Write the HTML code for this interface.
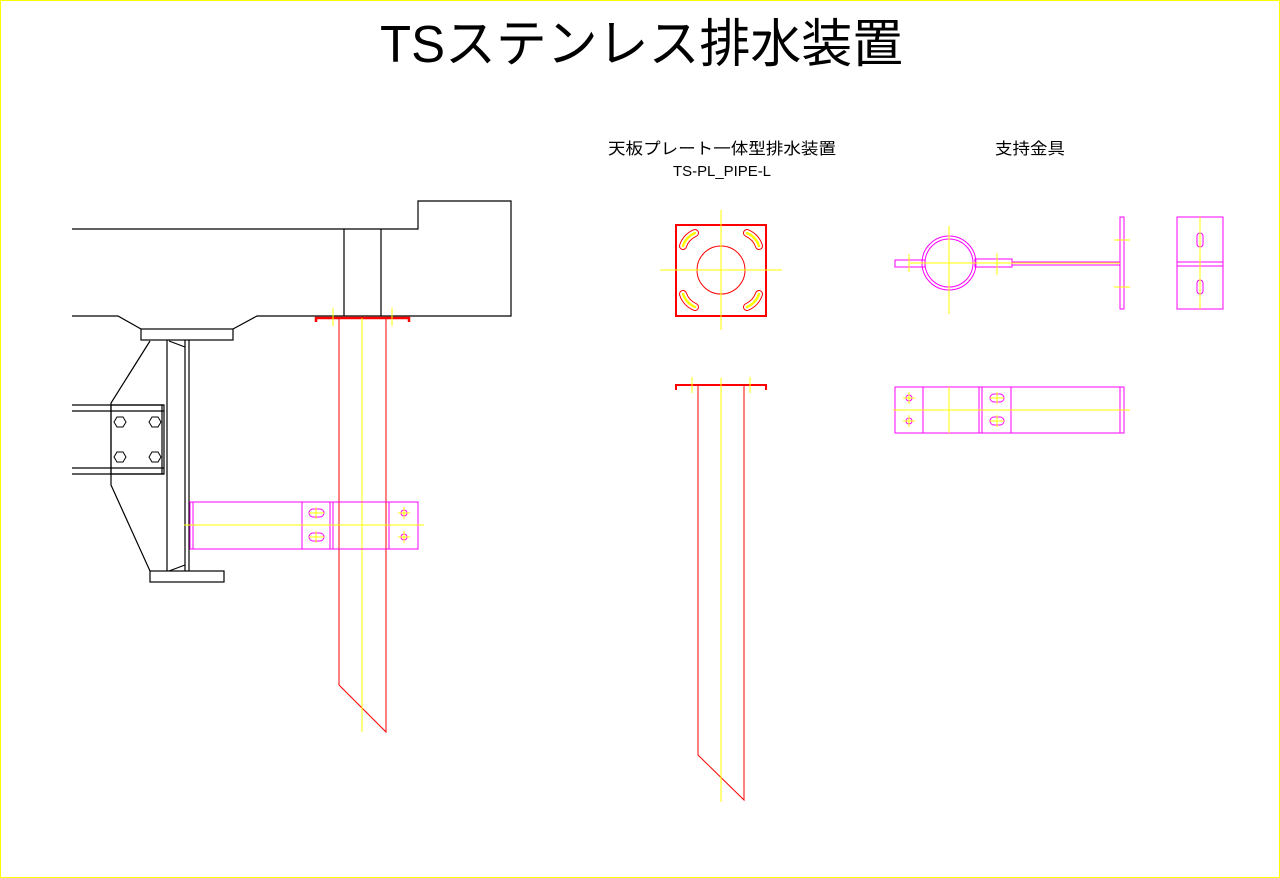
<!DOCTYPE html>
<html><head><meta charset="utf-8"><style>
html,body{margin:0;padding:0;background:#fff;}
svg{display:block;}
text{font-family:"Liberation Sans","Noto Sans CJK JP",sans-serif;}
</style></head><body>
<svg width="1280" height="878" viewBox="0 0 1280 878" xmlns="http://www.w3.org/2000/svg">
<rect x="0.5" y="0.5" width="1279" height="877" fill="#fff" stroke="#ffff00" stroke-width="1"/>
<text x="380" y="62" font-size="52" textLength="523" lengthAdjust="spacingAndGlyphs">TSステンレス排水装置</text>
<text x="722" y="154" font-size="16" text-anchor="middle" textLength="228" lengthAdjust="spacingAndGlyphs">天板プレート一体型排水装置</text>
<text x="722" y="176" font-size="15" text-anchor="middle" textLength="98" lengthAdjust="spacingAndGlyphs">TS-PL_PIPE-L</text>
<text x="1030" y="154" font-size="16" text-anchor="middle" textLength="70" lengthAdjust="spacingAndGlyphs">支持金具</text>

<g fill="none" stroke="#000" stroke-width="1.2">
<path d="M72 229 H418 V201 H511 V316 H257 L233 329 M141 329 L118 316 H72"/>
<line x1="344" y1="229" x2="344" y2="316"/><line x1="381" y1="229" x2="381" y2="316"/>
<rect x="141" y="329" width="92" height="11"/>
<rect x="150" y="571" width="74" height="11"/>
<line x1="167" y1="340" x2="167" y2="571"/>
<line x1="185" y1="340" x2="185" y2="571"/>
<line x1="189" y1="340" x2="189" y2="571"/>
<line x1="169" y1="341" x2="185" y2="347"/><line x1="169" y1="571" x2="185" y2="565"/>
<path d="M150 341 L111 403 V485 L150 571"/>
<line x1="72" y1="405" x2="164" y2="405"/><line x1="72" y1="411" x2="164" y2="411"/>
<line x1="72" y1="468" x2="164" y2="468"/><line x1="72" y1="474" x2="164" y2="474"/>
<rect x="111" y="405" width="53" height="69"/>
<line x1="162" y1="405" x2="162" y2="474"/>
<g stroke-width="1">
<polygon points="114,422 117,417 123,417 126,422 123,427 117,427"/>
<polygon points="149,422 152,417 158,417 161,422 158,427 152,427"/>
<polygon points="114,457 117,452 123,452 126,457 123,462 117,462"/>
<polygon points="149,457 152,452 158,452 161,457 158,462 152,462"/>
</g>
</g>

<g fill="none" stroke="#ff0000" stroke-width="1">
<path d="M316 322 V318 H409 V322" stroke-width="2.5"/>
<path d="M339 318 V685 L386 732 V318"/>
</g>
<g stroke="#ffff00" stroke-width="1">
<line x1="362" y1="318" x2="362" y2="732"/>
<line x1="333" y1="308" x2="333" y2="326"/><line x1="392" y1="308" x2="392" y2="326"/>
</g>
<g fill="none" stroke="#ff00ff" stroke-width="1">
<rect x="190" y="502" width="228" height="47"/>
<line x1="193" y1="502" x2="193" y2="549"/>
<line x1="302" y1="502" x2="302" y2="549"/>
<line x1="330" y1="502" x2="330" y2="549"/><line x1="333" y1="502" x2="333" y2="549"/>
<line x1="389" y1="502" x2="389" y2="549"/>
<rect x="309" y="509" width="15" height="8" rx="4"/><rect x="309" y="533" width="15" height="8" rx="4"/>
<circle cx="404" cy="513" r="3"/><circle cx="404" cy="537" r="3"/>
</g>
<g stroke="#ffff00" stroke-width="1">
<line x1="184" y1="525" x2="424" y2="525"/>
<line x1="309" y1="513" x2="324" y2="513"/><line x1="316" y1="507" x2="316" y2="519"/>
<line x1="309" y1="537" x2="324" y2="537"/><line x1="316" y1="531" x2="316" y2="543"/>
<line x1="398" y1="513" x2="410" y2="513"/><line x1="404" y1="507" x2="404" y2="519"/>
<line x1="398" y1="537" x2="410" y2="537"/><line x1="404" y1="531" x2="404" y2="543"/>
</g>

<rect x="676" y="225" width="90" height="91" fill="none" stroke="#ff0000" stroke-width="2"/>
<circle cx="721" cy="270" r="24" fill="none" stroke="#ff0000" stroke-width="1"/>
<g fill="none" stroke-linecap="round">
<g stroke="#ff0000" stroke-width="8">
<path d="M683 246 Q686 237 695 233"/><path d="M759 246 Q756 237 747 233"/>
<path d="M683 294 Q686 303 695 307"/><path d="M759 294 Q756 303 747 307"/>
</g>
<g stroke="#ffffff" stroke-width="6">
<path d="M683 246 Q686 237 695 233"/><path d="M759 246 Q756 237 747 233"/>
<path d="M683 294 Q686 303 695 307"/><path d="M759 294 Q756 303 747 307"/>
</g>
<g stroke="#ffff00" stroke-width="2.5">
<path d="M683 246 Q686 237 695 233"/><path d="M759 246 Q756 237 747 233"/>
<path d="M683 294 Q686 303 695 307"/><path d="M759 294 Q756 303 747 307"/>
</g>
</g>
<g stroke="#ffff00" stroke-width="1">
<line x1="660" y1="270" x2="782" y2="270"/><line x1="721" y1="210" x2="721" y2="330"/>
</g>

<g fill="none" stroke="#ff0000" stroke-width="1">
<path d="M676 390 V385 H766 V390" stroke-width="2"/>
<path d="M698 385 V755 L744 800 V385"/>
</g>
<g stroke="#ffff00" stroke-width="1">
<line x1="721" y1="378" x2="721" y2="802"/>
<line x1="692" y1="377" x2="692" y2="393"/><line x1="750" y1="377" x2="750" y2="393"/>
</g>

<g fill="none" stroke="#ff00ff" stroke-width="1">
<circle cx="949" cy="263" r="27"/><circle cx="949" cy="263" r="24"/>
<rect x="895" y="260" width="30" height="7"/>
<rect x="975" y="259" width="37" height="8"/>
<line x1="1012" y1="262" x2="1120" y2="262"/><line x1="1012" y1="265" x2="1120" y2="265"/>
<rect x="1120" y="217" width="4" height="92"/>
<rect x="1177" y="217" width="46" height="92"/>
<line x1="1177" y1="262" x2="1223" y2="262"/><line x1="1177" y1="266" x2="1223" y2="266"/>
<rect x="1197" y="233" width="6" height="14" rx="3"/><rect x="1197" y="280" width="6" height="14" rx="3"/>
</g>
<g stroke="#ffff00" stroke-width="1">
<line x1="949" y1="226" x2="949" y2="314"/><line x1="910" y1="263" x2="1120" y2="263"/>
<line x1="909" y1="254" x2="909" y2="272"/><line x1="997" y1="253" x2="997" y2="275"/>
<line x1="1114" y1="240" x2="1130" y2="240"/><line x1="1114" y1="287" x2="1130" y2="287"/>
<line x1="1200" y1="217" x2="1200" y2="309"/>
</g>

<g fill="none" stroke="#ff00ff" stroke-width="1">
<rect x="895" y="387" width="229" height="46"/>
<line x1="923" y1="387" x2="923" y2="433"/>
<line x1="979" y1="387" x2="979" y2="433"/><line x1="982" y1="387" x2="982" y2="433"/>
<line x1="1011" y1="387" x2="1011" y2="433"/>
<line x1="1120" y1="387" x2="1120" y2="433"/>
<circle cx="909" cy="398" r="3"/><circle cx="909" cy="421" r="3"/>
<rect x="990" y="394" width="14" height="8" rx="4"/><rect x="990" y="417" width="14" height="8" rx="4"/>
</g>
<g stroke="#ffff00" stroke-width="1">
<line x1="949" y1="387" x2="949" y2="433"/><line x1="893" y1="410" x2="1130" y2="410"/>
<line x1="903" y1="398" x2="915" y2="398"/><line x1="909" y1="392" x2="909" y2="404"/>
<line x1="903" y1="421" x2="915" y2="421"/><line x1="909" y1="415" x2="909" y2="427"/>
<line x1="990" y1="398" x2="1004" y2="398"/><line x1="997" y1="392" x2="997" y2="404"/>
<line x1="990" y1="421" x2="1004" y2="421"/><line x1="997" y1="415" x2="997" y2="427"/>
</g>
</svg>
</body></html>
